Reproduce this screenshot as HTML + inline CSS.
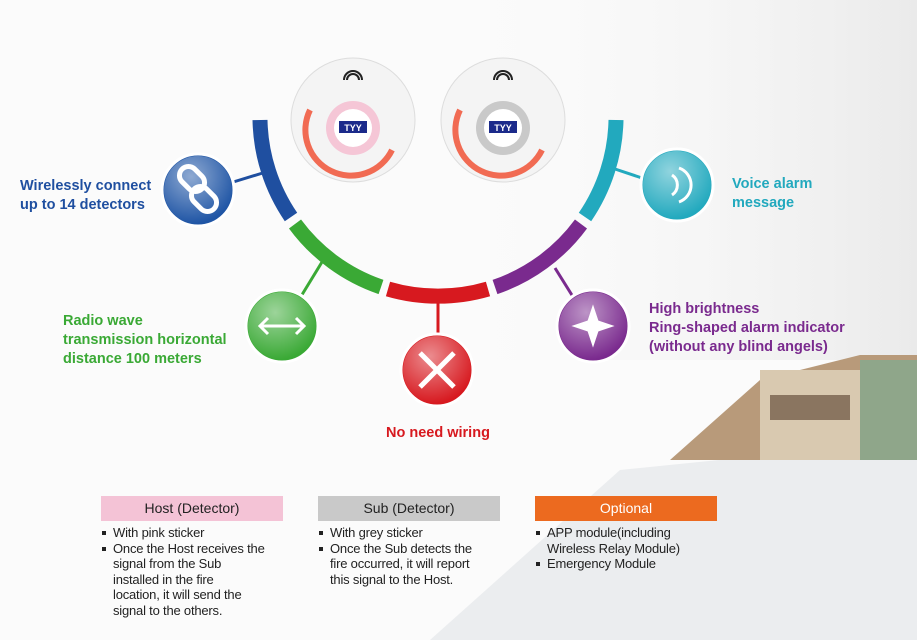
<!DOCTYPE html>
<html><head><meta charset="utf-8"><style>
body{margin:0;width:917px;height:640px;overflow:hidden;background:#fbfbfb;font-family:"Liberation Sans",sans-serif;position:relative}
.t{position:absolute;font-weight:bold;font-size:14.5px;line-height:19px}
.hd{position:absolute;top:496px;width:182px;height:25px;line-height:25px;text-align:center;font-size:14px;color:#222}
ul{position:absolute;top:525px;margin:0;padding:0;list-style:none;font-size:13px;line-height:15.5px;color:#222;white-space:nowrap;letter-spacing:-0.2px}
li{padding-left:12px;position:relative}
li:before{content:"";position:absolute;left:1px;top:6px;width:4px;height:4px;background:#222}
</style></head><body>
<svg width="917" height="640" style="position:absolute;left:0;top:0">
<defs>
<radialGradient id="g" cx="40%" cy="30%" r="70%"><stop offset="0" stop-color="#fff" stop-opacity=".5"/><stop offset="1" stop-color="#fff" stop-opacity="0"/></radialGradient>
<linearGradient id="bg" x1="0" y1="0" x2="1" y2="0"><stop offset="0" stop-color="#fff" stop-opacity="0"/><stop offset="1" stop-color="#e6e6e6"/></linearGradient>
</defs>
<rect x="380" y="0" width="537" height="360" fill="url(#bg)" opacity=".8"/>
<polygon points="430,640 620,470 917,440 917,640" fill="#e4e7e9" opacity=".7"/>
<polygon points="670,460 760,380 860,355 917,355 917,460" fill="#b89a7a"/>
<rect x="760" y="370" width="110" height="90" fill="#d9c9b0"/>
<rect x="770" y="395" width="80" height="25" fill="#8a7560"/>
<rect x="860" y="360" width="57" height="100" fill="#8fa68a"/>
<g fill="none" stroke-width="15">
<path d="M260,120 A178,178 0 0 0 291,217" stroke="#1f4fa0"/>
<path d="M295,224 A178,178 0 0 0 381,287" stroke="#3aa935"/>
<path d="M388,289 A178,178 0 0 0 488,289" stroke="#d7191f"/>
<path d="M495,287 A178,178 0 0 0 581,224" stroke="#7a2a8e"/>
<path d="M585,217 A178,178 0 0 0 616,120" stroke="#22a9be"/>
</g>
<g stroke-width="3">
<line x1="230" y1="183" x2="266" y2="172" stroke="#1f4fa0"/>
<line x1="300" y1="298" x2="322" y2="262" stroke="#3aa935"/>
<line x1="438" y1="300" x2="438" y2="335" stroke="#d7191f"/>
<line x1="575" y1="300" x2="555" y2="268" stroke="#7a2a8e"/>
<line x1="612" y1="168" x2="642" y2="178" stroke="#22a9be"/>
</g>
<g>
<circle cx="198" cy="190" r="36" fill="#1f55a5" stroke="#fff" stroke-width="3"/>
<circle cx="282" cy="326" r="36" fill="#3aa935" stroke="#fff" stroke-width="3"/>
<circle cx="437" cy="370" r="36" fill="#d7191f" stroke="#fff" stroke-width="3"/>
<circle cx="593" cy="326" r="36" fill="#7a2a8e" stroke="#fff" stroke-width="3"/>
<circle cx="677" cy="185" r="36" fill="#22a9be" stroke="#fff" stroke-width="3"/>
<circle cx="198" cy="190" r="34" fill="url(#g)"/><circle cx="282" cy="326" r="34" fill="url(#g)"/><circle cx="437" cy="370" r="34" fill="url(#g)"/><circle cx="593" cy="326" r="34" fill="url(#g)"/><circle cx="677" cy="185" r="34" fill="url(#g)"/>
</g>
<g fill="none" stroke="#fff" stroke-width="5">
<rect x="178" y="170" width="28" height="18" rx="9" transform="rotate(45 192 179)"/>
<rect x="190" y="190" width="28" height="18" rx="9" transform="rotate(45 204 199)"/>
<path d="M260,326 H304 M268,318 L260,326 268,334 M296,318 L304,326 296,334" stroke-width="3"/>
<path d="M420,353 L454,387 M454,353 L420,387" stroke-width="5"/>
<path d="M593,306 L598,321 613,326 598,331 593,346 588,331 573,326 588,321Z" fill="#fff" stroke-width="1"/>
<path d="M672,175 a12,12 0 0 1 0,20 M679,168 a18,18 0 0 1 0,34" stroke-width="3"/>
</g>
<g>
<circle cx="353" cy="120" r="62" fill="#f4f4f4" stroke="#ddd"/>
<circle cx="503" cy="120" r="62" fill="#f4f4f4" stroke="#ddd"/>
<path d="M310,110 A45,45 0 0 0 392,150" stroke="#f0492a" stroke-width="6" fill="none" opacity=".8"/>
<path d="M460,110 A45,45 0 0 0 542,150" stroke="#f0492a" stroke-width="6" fill="none" opacity=".8"/>
<circle cx="353" cy="128" r="27" fill="#f5c6d6"/><circle cx="353" cy="128" r="19" fill="#fff"/>
<circle cx="503" cy="128" r="27" fill="#c9c9c9"/><circle cx="503" cy="128" r="19" fill="#fff"/>
<rect x="339" y="121" width="28" height="12" fill="#1b2a8a"/><rect x="489" y="121" width="28" height="12" fill="#1b2a8a"/>
<text x="353" y="131" font-size="9" fill="#fff" text-anchor="middle" font-weight="bold">TYY</text>
<text x="503" y="131" font-size="9" fill="#fff" text-anchor="middle" font-weight="bold">TYY</text>
<path d="M344,80 a9,9 0 0 1 18,0 M347,80 a6,6 0 0 1 12,0" stroke="#222" stroke-width="2" fill="none"/>
<path d="M494,80 a9,9 0 0 1 18,0 M497,80 a6,6 0 0 1 12,0" stroke="#222" stroke-width="2" fill="none"/>
</g>
</svg>
<div class="t" style="left:20px;top:177px;color:#1f4fa0">Wirelessly connect<br>up to 14 detectors</div>
<div class="t" style="left:63px;top:312px;color:#3aa935">Radio wave<br>transmission horizontal<br>distance 100 meters</div>
<div class="t" style="left:386px;top:424px;color:#d7191f">No need wiring</div>
<div class="t" style="left:649px;top:300px;color:#7a2a8e">High brightness<br>Ring-shaped alarm indicator<br>(without any blind angels)</div>
<div class="t" style="left:732px;top:175px;color:#22a9be">Voice alarm<br>message</div>
<div class="hd" style="left:101px;background:#f4c3d6">Host (Detector)</div>
<div class="hd" style="left:318px;background:#c9c9c9">Sub (Detector)</div>
<div class="hd" style="left:535px;background:#ec6a1f;color:#fff">Optional</div>
<ul style="left:101px"><li>With pink sticker</li><li>Once the Host receives the<br>signal from the Sub<br>installed in the fire<br>location, it will send the<br>signal to the others.</li></ul>
<ul style="left:318px"><li>With grey sticker</li><li>Once the Sub detects the<br>fire occurred, it will report<br>this signal to the Host.</li></ul>
<ul style="left:535px"><li>APP module(including<br>Wireless Relay Module)</li><li>Emergency Module</li></ul>
</body></html>
